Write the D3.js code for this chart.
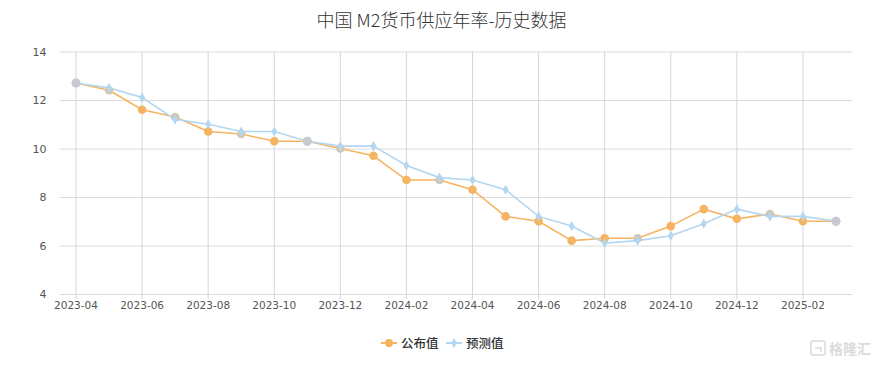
<!DOCTYPE html>
<html><head><meta charset="utf-8">
<script src="https://cdn.jsdelivr.net/npm/d3@7"></script>
<style>body{margin:0;background:#fff}svg{display:block}</style>
</head><body>
<svg id="c" width="883" height="367"></svg>
<script>
const months = ["2023-04","2023-05","2023-06","2023-07","2023-08","2023-09","2023-10","2023-11","2023-12","2024-01","2024-02","2024-03","2024-04","2024-05","2024-06","2024-07","2024-08","2024-09","2024-10","2024-11","2024-12","2025-01","2025-02","2025-03"];
const published = [12.7,12.4,11.6,11.3,10.7,10.6,10.3,10.3,10.0,9.7,8.7,8.7,8.3,7.2,7.0,6.2,6.3,6.3,6.8,7.5,7.1,7.3,7.0,7.0];
const forecast = [12.7,12.5,12.1,11.2,11.0,10.7,10.7,10.3,10.1,10.1,9.3,8.8,8.7,8.3,7.2,6.8,6.1,6.2,6.4,6.9,7.5,7.2,7.2,7.0];
const yTicks = [4,6,8,10,12,14];
const title = "中国 M2货币供应年率-历史数据";
const seriesNames = ["公布值","预测值"];

const svg = d3.select("#c");
const font = "'Noto Sans CJK SC','Noto Sans',sans-serif";
const L = 59.5, R = 852.5, T = 51.5, B = 294;
const x = d3.scaleBand().domain(months).range([L, R]);
const cx = d => x(d) + x.bandwidth()/2;
const y = d3.scaleLinear().domain([4,14]).range([B, T]);
const orange = "#f5b461", blue = "#b3d7f0";

svg.append("text").attr("x", 441.5).attr("y", 27).attr("text-anchor","middle")
  .attr("font-family", font).attr("font-size", 18).attr("font-weight", 300).attr("fill","#333").text(title);

// horizontal grid
const yAxis = d3.axisLeft(y).tickValues(yTicks).tickSize(-(R-L)).tickFormat(d3.format("d"));
const gy = svg.append("g").attr("transform", `translate(${L},0)`).call(yAxis);
gy.select(".domain").remove();
gy.selectAll("line").attr("stroke","#dcdcdc");
gy.selectAll("text").attr("x", -13).attr("font-family","'DejaVu Sans',sans-serif").attr("font-size",11).attr("fill","#555");

// vertical grid + x labels
const labelMonths = months.filter((m,i)=> i%2===0);
const xAxis = d3.axisBottom(x).tickValues(labelMonths).tickSize(5).tickSizeOuter(0);
const gx = svg.append("g").attr("transform", `translate(0,${B})`).call(xAxis);
gx.select(".domain").remove();
gx.selectAll("line").attr("y1", -(B-T)).attr("y2", 5).attr("stroke","#d6d6de");
gx.selectAll("text").attr("y", 8).attr("dy", "0.71em").attr("font-family","'DejaVu Sans',sans-serif").attr("font-size",10.5).attr("fill","#555");

const line = d3.line().x((d,i)=>cx(months[i])).y(d=>y(d));
svg.append("path").datum(published).attr("d", line).attr("fill","none").attr("stroke", orange).attr("stroke-width",1.6);
svg.append("path").datum(forecast).attr("d", line).attr("fill","none").attr("stroke", blue).attr("stroke-width",1.6);

svg.append("g").selectAll("circle").data(published).join("circle")
  .attr("cx",(d,i)=>cx(months[i])).attr("cy",d=>y(d)).attr("r",4.3)
  .attr("fill",(d,i)=> Math.abs(d-forecast[i])<0.15 ? "#d2c6b4" : orange);
const diamond = d3.symbol().type(d3.symbolDiamond).size(30);
svg.append("g").selectAll("path").data(forecast).join("path")
  .attr("d", diamond).attr("transform",(d,i)=>`translate(${cx(months[i])},${y(d)})`)
  .attr("fill", (d,i)=> Math.abs(d-published[i])<0.01 ? "#c6c9d0" : blue);
svg.append("g").selectAll("circle").data(forecast.map((d,i)=>[d,i]).filter(([d,i])=>Math.abs(d-published[i])<0.01)).join("circle")
  .attr("cx",([d,i])=>cx(months[i])).attr("cy",([d])=>y(d)).attr("r",4.5).attr("fill","#c9cacf");

// legend
const lg = svg.append("g").attr("font-family", font).attr("font-size", 12.5).attr("fill","#333");
lg.append("line").attr("x1",381).attr("x2",397).attr("y1",343).attr("y2",343).attr("stroke",orange).attr("stroke-width",2);
lg.append("circle").attr("cx",389).attr("cy",343).attr("r",4).attr("fill",orange);
lg.append("text").attr("x",401).attr("y",347.5).attr("font-weight",500).text(seriesNames[0]);
lg.append("line").attr("x1",446).attr("x2",462).attr("y1",343).attr("y2",343).attr("stroke",blue).attr("stroke-width",2);
lg.append("path").attr("d", d3.symbol().type(d3.symbolDiamond).size(30)).attr("transform","translate(454,343)").attr("fill",blue);
lg.append("text").attr("x",466).attr("y",347.5).attr("font-weight",500).text(seriesNames[1]);

// watermark
const wm = svg.append("g").attr("opacity",0.35);
wm.append("rect").attr("x",811).attr("y",341).attr("width",14).attr("height",14).attr("rx",2).attr("fill","none").attr("stroke","#999").attr("stroke-width",1.5);
wm.append("path").attr("d","M815,348 h6 v4").attr("fill","none").attr("stroke","#999").attr("stroke-width",1.5);
wm.append("text").attr("x",829).attr("y",354).attr("font-family",font).attr("font-size",14).attr("font-weight",700).attr("fill","#999").text("格隆汇");
</script>
</body></html>
